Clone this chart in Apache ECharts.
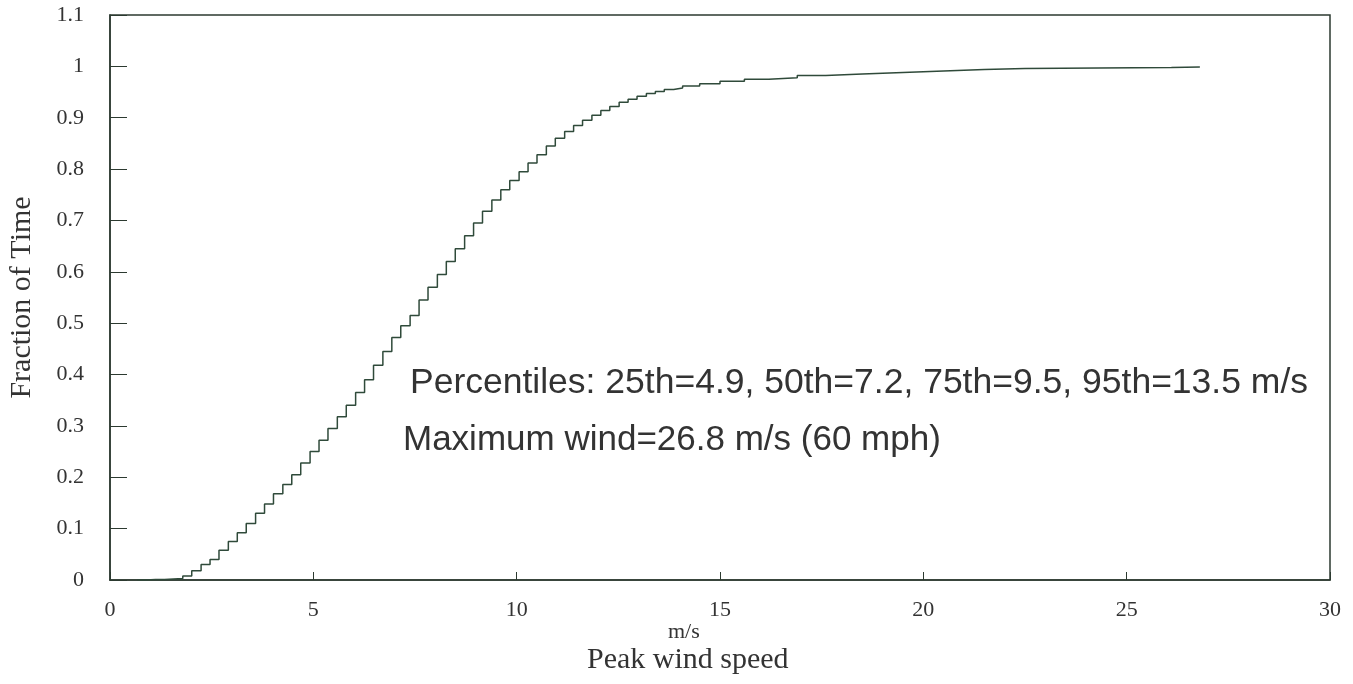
<!DOCTYPE html>
<html>
<head>
<meta charset="utf-8">
<script src="https://cdn.jsdelivr.net/npm/echarts@6/dist/echarts.min.js"></script>
<style>
  html, body { margin: 0; padding: 0; background: #fff; }
  #chart { width: 1353px; height: 684px; }
</style>
</head>
<body>
<div id="chart"></div>
<script>
// wind speed (m/s) where each step starts
const speeds = [
  0.67, 0.89, 1.12, 1.34, 1.56, 1.79, 2.01, 2.24, 2.46, 2.68,
  2.91, 3.13, 3.35, 3.58, 3.80, 4.02, 4.25, 4.47, 4.69, 4.92,
  5.14, 5.36, 5.59, 5.81, 6.04, 6.26, 6.48, 6.71, 6.93, 7.15,
  7.38, 7.60, 7.82, 8.05, 8.27, 8.49, 8.72, 8.94, 9.16, 9.39,
  9.61, 9.83, 10.06, 10.28, 10.50, 10.73, 10.95, 11.18, 11.40, 11.62,
  11.85, 12.07, 12.29, 12.52, 12.74, 12.96, 13.19, 13.41, 13.63, 13.86,
  14.08, 14.5, 15.0, 15.6, 16.2, 16.9, 17.6, 18.5, 19.5, 20.5,
  21.5, 22.5, 26.1, 26.8
];
// cumulative fraction of time
const fractions = [
  0.000, 0.001, 0.001, 0.002, 0.003, 0.008, 0.018, 0.030, 0.040, 0.058,
  0.075, 0.092, 0.110, 0.130, 0.148, 0.168, 0.186, 0.205, 0.228, 0.250,
  0.272, 0.295, 0.318, 0.340, 0.365, 0.390, 0.418, 0.445, 0.472, 0.495,
  0.515, 0.545, 0.570, 0.595, 0.620, 0.645, 0.670, 0.695, 0.718, 0.740,
  0.760, 0.778, 0.795, 0.812, 0.828, 0.845, 0.860, 0.873, 0.885, 0.895,
  0.905, 0.914, 0.922, 0.930, 0.936, 0.942, 0.947, 0.951, 0.955, 0.958,
  0.962, 0.966, 0.971, 0.975, 0.978, 0.982, 0.985, 0.988, 0.991, 0.994,
  0.996, 0.998, 0.999, 1.000
];
const notes = [
  'Percentiles: 25th=4.9, 50th=7.2, 75th=9.5, 95th=13.5 m/s',
  'Maximum wind=26.8 m/s (60 mph)'
];

const inkColor = '#2c3a30';
const serif = '"Liberation Serif", "DejaVu Serif", serif';
const sans = '"Liberation Sans", Arial, sans-serif';

let chart = echarts.init(document.getElementById('chart'));
const option = {
  animation: false,
  backgroundColor: '#fff',
  grid: {
    left: 110, right: 23, top: 15, bottom: 104,
    outerBoundsMode: 'none',
    containLabel: false,
    show: true, borderColor: inkColor, borderWidth: 1.5
  },
  xAxis: {
    type: 'value',
    min: 0, max: 30, interval: 5,
    axisLine: { lineStyle: { color: inkColor, width: 1.5 } },
    axisTick: { inside: true, length: 8, lineStyle: { color: inkColor } },
    axisLabel: { fontFamily: serif, fontSize: 22, color: '#333', margin: 19 },
    splitLine: { show: false }
  },
  yAxis: {
    type: 'value',
    min: 0, max: 1.1, interval: 0.1,
    name: 'Fraction of Time',
    nameLocation: 'middle',
    nameGap: 73,
    nameTextStyle: { fontFamily: serif, fontSize: 30, color: '#333' },
    axisLine: { lineStyle: { color: inkColor, width: 1.5 } },
    axisTick: { inside: true, length: 17, lineStyle: { color: inkColor } },
    axisLabel: {
      fontFamily: serif, fontSize: 22, color: '#333', margin: 26,
      formatter: function (v) { return String(Math.round(v * 10) / 10); }
    },
    splitLine: { show: false }
  },
  graphic: [
    {
      type: 'text', left: 668, top: 621,
      style: { text: 'm/s', font: '22px ' + serif, fill: '#333' }
    },
    {
      type: 'text', left: 587, top: 645,
      style: { text: 'Peak wind speed', font: '30px ' + serif, fill: '#333' }
    },
    {
      type: 'text', left: 410, top: 365,
      style: { text: notes[0], font: '35.5px ' + sans, fill: '#333' }
    },
    {
      type: 'text', left: 403, top: 423,
      style: { text: notes[1], font: '35px ' + sans, fill: '#333' }
    }
  ],
  series: [{
    type: 'line',
    step: 'end',
    symbol: 'none',
    lineStyle: { color: '#2f4a3a', width: 1.5 },
    data: speeds.map((s, i) => [s, fractions[i]])
  }]
};
chart.setOption(option);
</script>
</body>
</html>
